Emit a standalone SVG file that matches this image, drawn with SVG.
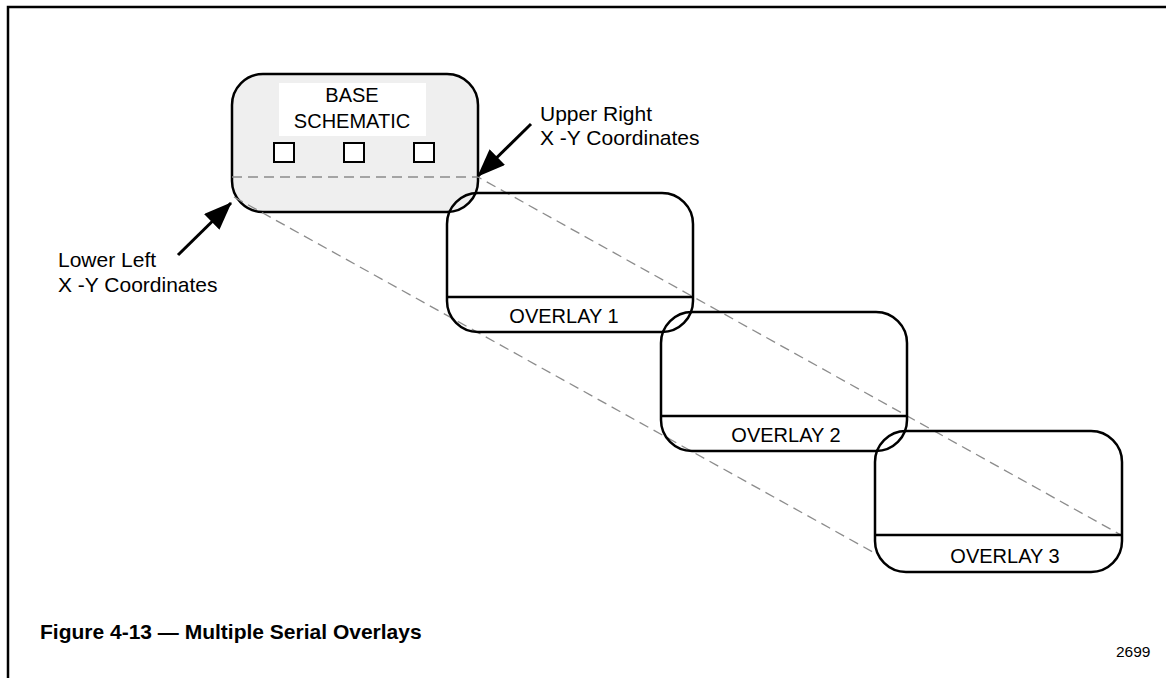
<svg xmlns="http://www.w3.org/2000/svg" width="1166" height="678" viewBox="0 0 1166 678">
<defs>
<style>
.box{fill:none;stroke:#000;stroke-width:2.5}
.base{fill:#efefef;stroke:#000;stroke-width:2.5}
.div{stroke:#000;stroke-width:2.5}
.dash{fill:none;stroke:#8c8c8c;stroke-width:1.3;stroke-dasharray:10 6}
.arrow{stroke:#000;stroke-width:3;fill:none}
.sq{fill:#fff;stroke:#000;stroke-width:2}
.t{font-family:"Liberation Sans",Arial,sans-serif;font-size:20px;fill:#000}
.lab{font-size:21px}
.c{text-anchor:middle}
.cap{font-family:"Liberation Sans",Arial,sans-serif;font-size:21px;font-weight:bold;fill:#000}
</style>
<marker id="ah" markerUnits="userSpaceOnUse" markerWidth="30" markerHeight="22" refX="27" refY="11" orient="auto">
<path d="M0,0 L28,11 L0,22 Z" fill="#000"/>
</marker>
</defs>
<rect width="1166" height="678" fill="#fff"/>
<path d="M8,678 L8,7 L1166,7" fill="none" stroke="#000" stroke-width="2.5"/>

<g id="base">
<rect class="base" x="232" y="74" width="246" height="138" rx="31" ry="31"/>
<rect x="279" y="83" width="147" height="53" fill="#fff"/>
<text class="t c" x="352" y="102">BASE</text>
<text class="t c" x="352" y="128">SCHEMATIC</text>
<rect class="sq" x="274" y="143" width="20" height="19"/>
<rect class="sq" x="344" y="143" width="20" height="19"/>
<rect class="sq" x="414" y="143" width="20" height="19"/>
</g>

<g id="connectors">
<path class="dash" d="M232,177 L478,177 L1121,535"/>
<path class="dash" d="M234,197 L880,556"/>
<line class="arrow" x1="531" y1="124" x2="478" y2="176" marker-end="url(#ah)"/>
<line class="arrow" x1="178" y1="255" x2="231" y2="203" marker-end="url(#ah)"/>
</g>

<g id="overlay1">
<rect class="box" x="447" y="193" width="246" height="139" rx="31" ry="31"/>
<line class="div" x1="447" y1="297" x2="693" y2="297"/>
<text class="t c" x="564" y="323">OVERLAY 1</text>
</g>
<g id="overlay2">
<rect class="box" x="661" y="312" width="246" height="139" rx="31" ry="31"/>
<line class="div" x1="661" y1="416" x2="907" y2="416"/>
<text class="t c" x="786" y="442">OVERLAY 2</text>
</g>
<g id="overlay3">
<rect class="box" x="875" y="431" width="247" height="141" rx="31" ry="31"/>
<line class="div" x1="875" y1="535" x2="1122" y2="535"/>
<text class="t c" x="1005" y="563">OVERLAY 3</text>
</g>

<g id="label-upper">
<text class="t lab" x="540" y="121">Upper Right</text>
<text class="t lab" x="540" y="145">X -Y Coordinates</text>
</g>
<g id="label-lower">
<text class="t lab" x="58" y="267">Lower Left</text>
<text class="t lab" x="58" y="292">X -Y Coordinates</text>
</g>
<text class="cap" x="40" y="639">Figure 4-13 — Multiple Serial Overlays</text>
<text class="t" x="1116" y="657" style="font-size:15.5px">2699</text>
</svg>
